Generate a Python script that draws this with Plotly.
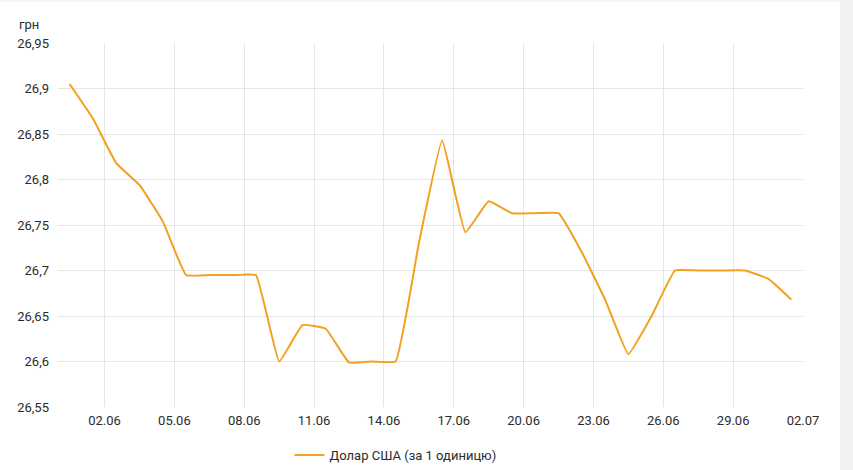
import plotly.graph_objects as go
import pandas as pd

dates = pd.date_range("2020-05-31 12:00", periods=32, freq="D")
usd_rate = [26.905, 26.867, 26.818, 26.794, 26.754, 26.695, 26.695, 26.695,
            26.695, 26.600, 26.640, 26.636, 26.599, 26.600, 26.600, 26.730,
            26.843, 26.742, 26.776, 26.763, 26.763, 26.763, 26.720, 26.668,
            26.608, 26.650, 26.700, 26.700, 26.700, 26.700, 26.691, 26.668]
series_name = "Долар США (за 1 одиницю)"
y_tick_vals = [26.55, 26.60, 26.65, 26.70, 26.75, 26.80, 26.85, 26.90, 26.95]
y_tick_text = ["26,55", "26,6", "26,65", "26,7", "26,75", "26,8", "26,85", "26,9", "26,95"]
unit_label = "грн"

fig = go.Figure()
fig.add_trace(go.Scatter(
    x=dates, y=usd_rate, mode="lines", name=series_name,
    line=dict(color="#F2A01E", width=2, shape="spline", smoothing=0.3),
))

W, H = 853, 470
ml, mr, mt, mb = 58, 50, 43, 63
pw, ph = W - ml - mr, H - mt - mb
fig.update_layout(
    width=W, height=H,
    margin=dict(l=ml, r=mr, t=mt, b=mb, autoexpand=False),
    paper_bgcolor="white", plot_bgcolor="white",
    font=dict(family="Roboto", size=13, color="#2b2b2b"),
    showlegend=True,
    legend=dict(orientation="h", x=(395.5 - ml) / pw, xanchor="center",
                y=-(455 - (H - mb)) / ph, yanchor="middle",
                font=dict(size=13, color="#2b2b2b"), itemwidth=30),
    xaxis=dict(
        type="date", automargin=False,
        range=["2020-05-31 00:00", "2020-07-02 00:00"],
        tick0="2020-06-02", dtick=3 * 86400000, tickformat="%d.%m",
        showgrid=True, gridcolor="#e6e6e6", gridwidth=1,
        zeroline=False, showline=False, ticks="",
        ticklabelstandoff=4,
    ),
    yaxis=dict(
        automargin=False,
        range=[26.55, 26.95],
        tickvals=y_tick_vals, ticktext=y_tick_text,
        showgrid=True, gridcolor="#e6e6e6", gridwidth=1,
        zeroline=False, showline=False, ticks="",
        ticklabelstandoff=8,
    ),
    annotations=[dict(
        text=unit_label, xref="paper", yref="paper",
        x=(17 - ml) / pw, y=((H - mb) - 25) / ph,
        xanchor="left", yanchor="middle", showarrow=False,
        font=dict(size=13, color="#2b2b2b"),
    )],
    shapes=[
        dict(type="rect", xref="paper", yref="paper", layer="above",
             x0=(840 - ml) / pw, x1=(W - ml) / pw,
             y0=-mb / ph, y1=1 + mt / ph,
             fillcolor="#f4f2f1", line=dict(width=0)),
        dict(type="rect", xref="paper", yref="paper", layer="above",
             x0=-ml / pw, x1=(840 - ml) / pw,
             y0=1 + (mt - 2) / ph, y1=1 + mt / ph,
             fillcolor="#f4f4f4", line=dict(width=0)),
    ],
)
fig.write_html("out.html", config={"displayModeBar": False},
               post_script="document.body.style.margin='0';document.body.style.overflow='hidden';")
